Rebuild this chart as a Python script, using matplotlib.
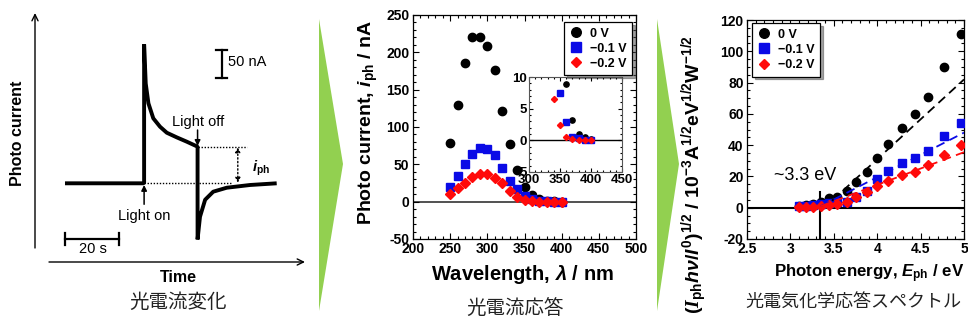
import matplotlib
matplotlib.use("Agg")
import matplotlib.pyplot as plt
from matplotlib.patches import Polygon
from matplotlib.ticker import FixedLocator, MultipleLocator

# ---------------- data ----------------
# left schematic trace (time in s, current in nA)
trace_t = [0, 29.3, 29.3, 29.9, 30.9, 32.7, 35.2, 37.7, 41.4, 45.1, 49.1, 49.1, 49.6, 50.0, 51.9, 54.9, 59.9, 68.5, 78.4]
trace_i = [0, 0, 245, 176, 141, 114.6, 99.8, 89.2, 81, 73.4, 64.6, -99, -76.5, -59, -29, -14.8, -7.8, -3, 0]
light_on_t = 29.3
light_off_t = 49.1
iph_level = 64.6

# middle: photocurrent vs wavelength
wavelength = [250, 260, 270, 280, 290, 300, 310, 320, 330, 340, 350, 360, 370, 380, 390, 400]
i_0V = [78, 130, 186, 220, 221, 208, 177, 122, 77, 42, 20, 8.9, 3.2, 1.0, 0.5, 0.2]
i_m01V = [19, 35, 50, 64, 72, 70, 62, 45, 28, 17, 7.5, 2.95, 0.6, 0.3, 0.1, 0.1]
i_m02V = [10, 18, 25.5, 33, 37, 37, 32, 24.5, 14.5, 6.6, 2.5, 0.6, 0.2, 0.1, 0.1, 0.1]
series_labels = ["0 V", "\u22120.1 V", "\u22120.2 V"]

mid_xticks = [200, 250, 300, 350, 400, 450, 500]
mid_xticklabels = ["200", "250", "300", "350", "400", "450", "500"]
mid_yticks = [-50, 0, 50, 100, 150, 200, 250]
mid_yticklabels = ["-50", "0", "50", "100", "150", "200", "250"]
ins_xticks = [300, 350, 400, 450]
ins_xticklabels = ["300", "350", "400", "450"]
ins_yticks = [-5, 0, 5, 10]
ins_yticklabels = ["5", "0", "5", "10"]

# right: (I h nu / I0)^1/2 vs photon energy
energy = [4.96, 4.77, 4.59, 4.43, 4.28, 4.13, 4.00, 3.88, 3.76, 3.65, 3.54, 3.44, 3.35, 3.26, 3.18, 3.10]
f_0V = [111, 90, 70.8, 59.9, 51, 40.7, 31.8, 22.6, 16.2, 10.7, 6.8, 6.0, 3.8, 2.6, 1.8, 1.0]
f_m01V = [54.3, 45.8, 36.3, 32, 28.8, 23.6, 18.3, 10.8, 7.0, 3.8, 3.8, 3.2, 2.4, 1.8, 1.3, 0.8]
f_m02V = [40.1, 33.7, 27.3, 23, 20.6, 16.8, 13.9, 9.8, 6.7, 3.9, 2.4, 1.5, 1.0, 0.7, 0.5, 0.4]
fit_0V_E = [3.48, 5.0]
fit_0V_y = [4.5, 82]
fit_m01V_E = [3.35, 5.0]
fit_m01V_y = [1.0, 48]
fit_m02V_E = [3.35, 5.0]
fit_m02V_y = [1.0, 35.5]
band_gap = 3.34
right_xticks = [2.5, 3, 3.5, 4, 4.5, 5]
right_xticklabels = ["2.5", "3", "3.5", "4", "4.5", "5"]
right_yticks = [-20, 0, 20, 40, 60, 80, 100, 120]
right_yticklabels = ["-20", "0", "20", "40", "60", "80", "100", "120"]

# ---------------- style ----------------
plt.rcParams['font.family'] = ['Liberation Sans', 'DejaVu Sans']
plt.rcParams['axes.unicode_minus'] = False
plt.rcParams['mathtext.fontset'] = 'custom'
plt.rcParams['mathtext.rm'] = 'Liberation Sans:bold'
plt.rcParams['mathtext.it'] = 'Liberation Sans:bold:italic'
plt.rcParams['mathtext.bf'] = 'Liberation Sans:bold'
plt.rcParams['mathtext.cal'] = 'Liberation Serif:bold:italic'

W, H = 968, 323
fig = plt.figure(figsize=(W / 100, H / 100), dpi=100)
fig.patch.set_facecolor('white')
JP = ['Noto Sans CJK JP', 'DejaVu Sans']
GREEN = '#92D050'
BLUE = '#0A0AE6'
RED = '#FF0A0A'


def fx(px):
    return px / W


def fy(py):
    return 1 - py / H


# chevrons
for x0, tip in [(319, 343), (657, 679)]:
    fig.patches.append(Polygon([(fx(x0), fy(19)), (fx(tip), fy(164)), (fx(x0), fy(311))],
                               closed=True, transform=fig.transFigure, facecolor=GREEN,
                               edgecolor='none', zorder=0))

# ---------------- left schematic ----------------
axL = fig.add_axes([0, 0, 318 / W, 1])
axL.set_xlim(-24.07, 93.7)
axL.set_ylim(-246.4, 323.3)
axL.axis('off')
axL.plot(trace_t, trace_i, color='black', lw=2.8, solid_joinstyle='bevel', solid_capstyle='butt')
axL.plot([light_on_t, 62], [0, 0], color='black', lw=1.0, ls=(0, (1, 1.2)))
axL.plot([light_off_t, 67.3], [iph_level, iph_level], color='black', lw=1.0, ls=(0, (1, 1.2)))
axL.annotate('', xy=(64, iph_level - 1), xytext=(64, 1),
             arrowprops=dict(arrowstyle='<|-|>', color='black', lw=1.0, ls=':',
                             mutation_scale=7, shrinkA=0, shrinkB=0))
axL.text(69.2, 26, r'$i_{\rm ph}$', fontsize=10.5, ha='left', va='center')
axL.annotate('', xy=(light_on_t, -3), xytext=(light_on_t, -37),
             arrowprops=dict(arrowstyle='-|>', color='black', lw=1.1, mutation_scale=8,
                             shrinkA=0, shrinkB=0))
axL.text(light_on_t, -57, 'Light on', fontsize=10.5, ha='center', va='center')
axL.annotate('', xy=(light_off_t, 66), xytext=(light_off_t, 94),
             arrowprops=dict(arrowstyle='-|>', color='black', lw=1.1, mutation_scale=8,
                             shrinkA=0, shrinkB=0))
axL.text(light_off_t + 0.3, 109, 'Light off', fontsize=10.5, ha='center', va='center')
# scale bars
axL.plot([58, 58], [185, 235], color='black', lw=1.6)
axL.plot([56, 60], [185, 185], color='black', lw=1.6)
axL.plot([56, 60], [235, 235], color='black', lw=1.6)
axL.text(60.3, 214.5, '50 nA', fontsize=10.5, ha='left', va='center')
axL.plot([0, 20], [-98.8, -98.8], color='black', lw=1.6)
axL.plot([0, 0], [-109, -88], color='black', lw=1.6)
axL.plot([20, 20], [-109, -88], color='black', lw=1.6)
axL.text(10.2, -115, '20 s', fontsize=10.5, ha='center', va='center')
# axis arrows
axL.annotate('', xy=(35 / 318, fy(13)), xytext=(35 / 318, fy(248)), xycoords='axes fraction',
             arrowprops=dict(arrowstyle='->,head_length=0.45,head_width=0.22', color='black', lw=1.0,
                             shrinkA=0, shrinkB=0))
axL.annotate('', xy=(305 / 318, fy(262)), xytext=(49 / 318, fy(262)), xycoords='axes fraction',
             arrowprops=dict(arrowstyle='->,head_length=0.45,head_width=0.22', color='black', lw=1.0,
                             shrinkA=0, shrinkB=0))
fig.text(fx(18), fy(133), 'Photo current', rotation=90, fontsize=11.5, fontweight='bold',
         ha='center', va='center')
fig.text(fx(178), fy(278), 'Time', fontsize=11.5, fontweight='bold', ha='center', va='center')
fig.text(fx(178), fy(302), '光電流変化', fontsize=14, family=JP, color='#222222',
         ha='center', va='center')


def style_axes(ax, xt, xtl, yt, ytl, xminor, yminor, size=10):
    ax.xaxis.set_major_locator(FixedLocator(xt))
    ax.set_xticklabels(xtl, fontweight='bold', fontsize=size)
    ax.yaxis.set_major_locator(FixedLocator(yt))
    ax.set_yticklabels(ytl, fontweight='bold', fontsize=size)
    ax.xaxis.set_minor_locator(MultipleLocator(xminor))
    ax.yaxis.set_minor_locator(MultipleLocator(yminor))
    ax.tick_params(which='both', direction='in', top=True, right=True, width=0.8)
    ax.tick_params(which='major', length=4, pad=2.5)
    ax.tick_params(which='minor', length=2)
    for s in ax.spines.values():
        s.set_linewidth(0.9)


LEG_KW = dict(prop={'weight': 'bold', 'size': 9}, frameon=True, fancybox=False, shadow=True,
              edgecolor='black', framealpha=1, handlelength=1.0, handletextpad=0.6,
              borderpad=0.45, labelspacing=0.25, borderaxespad=0, markerscale=1.15)

# ---------------- middle ----------------
ax2 = fig.add_axes([fx(413), fy(239), 223 / W, 224 / H])
ax2.axhline(0, color='#333333', lw=1.2, zorder=1)
ax2.plot(wavelength, i_0V, 'o', color='black', ms=6, ls='none', label=series_labels[0], zorder=3)
ax2.plot(wavelength, i_m01V, 's', color=BLUE, ms=6, ls='none', label=series_labels[1], zorder=4)
ax2.plot(wavelength, i_m02V, 'D', color=RED, ms=4.8, ls='none', label=series_labels[2], zorder=5)
ax2.set_xlim(200, 500)
ax2.set_ylim(-50, 250)
style_axes(ax2, mid_xticks, mid_xticklabels, mid_yticks, mid_yticklabels, 10, 10)
leg = ax2.legend(loc='upper right', bbox_to_anchor=(0.982, 0.969), **LEG_KW)
leg.get_frame().set_linewidth(0.9)
fig.text(fx(368), fy(123), r'Photo current, $i_{\rm ph}$ / nA', rotation=90, fontsize=14,
         fontweight='bold', ha='center', va='center')
fig.text(fx(523), fy(275), r'Wavelength, $\lambda$ / nm', fontsize=14.5, fontweight='bold',
         ha='center', va='center')
fig.text(fx(515), fy(309), '光電流応答', fontsize=14, family=JP, color='#222222',
         ha='center', va='center')

# inset
axi = fig.add_axes([fx(529), fy(172), 93 / W, 95 / H])
axi.patch.set_alpha(0)
axi.axhline(0, color='black', lw=1.0, zorder=1)
axi.plot(wavelength, i_0V, 'o', color='black', ms=3.8, ls='none', zorder=3)
axi.plot(wavelength, i_m01V, 's', color=BLUE, ms=3.8, ls='none', zorder=4)
axi.plot(wavelength, i_m02V, 'D', color=RED, ms=3.1, ls='none', zorder=5)
axi.set_xlim(300, 450)
axi.set_ylim(-5, 10)
style_axes(axi, ins_xticks, ins_xticklabels, ins_yticks, ins_yticklabels, 10, 1, size=9.5)
axi.tick_params(which='major', length=3, pad=1.5)
axi.tick_params(which='minor', length=1.5)
for s in axi.spines.values():
    s.set_linestyle((0, (1, 1)))
    s.set_color('#555555')
    s.set_linewidth(0.8)

# ---------------- right ----------------
ax3 = fig.add_axes([fx(747), fy(239), 217 / W, 219 / H])
ax3.axhline(0, color='black', lw=1.5, zorder=1)
ax3.plot([band_gap, band_gap], [-20, 10], color='black', lw=1.5, zorder=1)
ax3.plot(energy, f_0V, 'o', color='black', ms=6, ls='none', label=series_labels[0], zorder=3)
ax3.plot(energy, f_m01V, 's', color=BLUE, ms=6, ls='none', label=series_labels[1], zorder=4)
ax3.plot(energy, f_m02V, 'D', color=RED, ms=4.8, ls='none', label=series_labels[2], zorder=5)
ax3.plot(fit_0V_E, fit_0V_y, color='black', lw=1.3, ls=(0, (5, 3)), zorder=6)
ax3.plot(fit_m01V_E, fit_m01V_y, color=BLUE, lw=1.3, ls=(0, (5, 3)), zorder=6)
ax3.plot(fit_m02V_E, fit_m02V_y, color=RED, lw=1.3, ls=(0, (5, 3)), zorder=6)
ax3.text(3.168, 20.3, '~3.3 eV', fontsize=13, ha='center', va='center')
ax3.set_xlim(2.5, 5)
ax3.set_ylim(-20, 120)
style_axes(ax3, right_xticks, right_xticklabels, right_yticks, right_yticklabels, 0.1, 5)
leg3 = ax3.legend(loc='upper left', bbox_to_anchor=(0.023, 0.986), **LEG_KW)
leg3.get_frame().set_linewidth(0.9)
fig.text(fx(695), fy(175),
         r'$(\mathcal{I}_{\rm ph}h\nu/I^{0})^{1/2}$ / 10$^{-3}$A$^{1/2}$eV$^{1/2}$W$^{-1/2}$',
         rotation=90, fontsize=14, fontweight='bold', ha='center', va='center')
fig.text(fx(869), fy(274), r'Photon energy, $E_{\rm ph}$ / eV', fontsize=12.2, fontweight='bold',
         ha='center', va='center')
fig.text(fx(853), fy(303), '光電気化学応答スペクトル', fontsize=13, family=JP, color='#222222',
         ha='center', va='center')

fig.savefig('out.png', dpi=100, facecolor='white')
